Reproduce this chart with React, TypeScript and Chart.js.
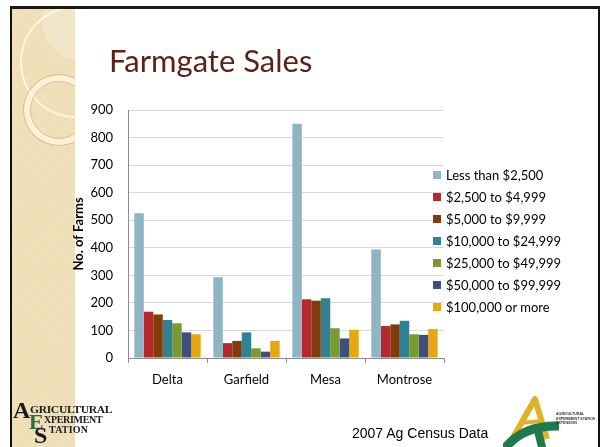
import React, { useEffect, useRef } from 'react';
import { Chart, registerables } from 'chart.js';

Chart.register(...registerables);

const categories = ['Delta', 'Garfield', 'Mesa', 'Montrose'];
const seriesNames = [
  'Less than $2,500',
  '$2,500 to $4,999',
  '$5,000 to $9,999',
  '$10,000 to $24,999',
  '$25,000 to $49,999',
  '$50,000 to $99,999',
  '$100,000 or more',
];
const lessThan2500 = [525, 293, 850, 394];
const from2500to4999 = [168, 54, 213, 116];
const from5000to9999 = [158, 62, 208, 122];
const from10000to24999 = [138, 93, 217, 135];
const from25000to49999 = [126, 35, 108, 86];
const from50000to99999 = [93, 23, 71, 84];
const from100000up = [86, 62, 102, 105];
const seriesValues = [
  lessThan2500,
  from2500to4999,
  from5000to9999,
  from10000to24999,
  from25000to49999,
  from50000to99999,
  from100000up,
];
const seriesColors = ['#8FB4C2', '#B3292F', '#803C0B', '#2F8193', '#789A2E', '#3E4F7E', '#E8A70F'];
const yMin = 0;
const yMax = 900;
const yStep = 100;
const titleText = 'Farmgate Sales';
const yTitle = 'No. of Farms';
const footerText = '2007 Ag Census Data';

const FONT = 'Lato, "Open Sans", sans-serif';

export default function App() {
  const ref = useRef<HTMLCanvasElement>(null);

  useEffect(() => {
    Chart.defaults.font.family = FONT;
    const chart = new Chart(ref.current as HTMLCanvasElement, {
      type: 'bar',
      data: {
        labels: categories,
        datasets: seriesNames.map((name, i) => ({
          label: name,
          data: seriesValues[i],
          backgroundColor: seriesColors[i],
          borderWidth: 0,
          categoryPercentage: 0.84,
          barPercentage: 1,
        })),
      },
      options: {
        responsive: false,
        animation: false,
        devicePixelRatio: 1,
        layout: { padding: { left: 68, top: 110, right: 156, bottom: 59 } },
        plugins: {
          legend: { display: false },
          tooltip: { enabled: false },
        },
        scales: {
          x: {
            grid: {
              display: true,
              drawOnChartArea: false,
              drawTicks: true,
              tickLength: 5,
              color: '#8c8c8c',
              offset: true,
            },
            border: { color: '#8c8c8c' },
            ticks: { color: '#000', font: { size: 13 }, padding: 9 },
            afterFit: (s: any) => {
              s.height = 30;
            },
          },
          y: {
            min: yMin,
            max: yMax,
            ticks: { stepSize: yStep, color: '#000', font: { size: 13 }, padding: 15 },
            grid: { color: '#d9d9d9', drawTicks: false },
            border: { color: '#8c8c8c' },
            title: {
              display: true,
              text: yTitle,
              color: '#000',
              font: { size: 13, weight: 'bold' },
              padding: { top: 3, bottom: 0 },
            },
            afterFit: (s: any) => {
              s.width = 60;
            },
          },
        },
      },
    });
    return () => chart.destroy();
  }, []);

  const abs = (o: React.CSSProperties): React.CSSProperties => ({ position: 'absolute', ...o });

  return (
    <div style={{ position: 'fixed', left: 0, top: 0, width: 600, height: 447, overflow: 'hidden', background: '#fff' }}>
      {/* frame */}
      <div style={abs({ left: 10, top: 6, width: 590, height: 3, background: '#1b1712' })} />
      <div style={abs({ left: 10, top: 6, width: 2, height: 441, background: '#111' })} />
      <div style={abs({ left: 598, top: 6, width: 2, height: 441, background: '#111' })} />
      {/* beige strip */}
      <div
        style={abs({
          left: 12,
          top: 9,
          width: 63,
          height: 438,
          overflow: 'hidden',
          background: '#EEDCB2',
          backgroundImage:
            'repeating-linear-gradient(45deg, rgba(255,255,255,0.12) 0 1px, transparent 1px 3px), repeating-linear-gradient(-45deg, rgba(255,255,255,0.12) 0 1px, transparent 1px 3px)',
        })}
      >
        <div style={abs({ left: 30, top: -28, width: 80, height: 80, borderRadius: '50%', background: 'rgba(255,255,255,0.22)' })} />
        <div style={abs({ left: 8, top: -3, width: 112, height: 112, borderRadius: '50%', border: '2px solid rgba(255,250,225,0.9)', boxSizing: 'border-box' })} />
        <div
          style={abs({
            left: 11,
            top: 65,
            width: 72,
            height: 72,
            borderRadius: '50%',
            border: '1px solid rgba(205,175,120,0.8)',
            background: 'radial-gradient(circle, transparent 0 28px, rgba(255,248,225,0.75) 29px 35px)',
            boxSizing: 'border-box',
          })}
        />
        <div style={abs({ left: 18, top: 72, width: 58, height: 58, borderRadius: '50%', border: '1px solid rgba(205,175,120,0.7)', boxSizing: 'border-box' })} />
      </div>

      <canvas ref={ref} width={600} height={447} style={abs({ left: 0, top: 0, width: 600, height: 447 })} />

      {/* title */}
      <div style={abs({ left: 109, top: 44.5, fontFamily: FONT, fontSize: 31, lineHeight: '31px', color: '#5B2318', whiteSpace: 'nowrap' })}>
        {titleText}
      </div>

      {/* legend */}
      <div style={abs({ left: 433, top: 164, fontFamily: FONT, fontSize: 13, color: '#000' })}>
        {seriesNames.map((name, i) => (
          <div key={name} style={{ position: 'relative', height: 22, lineHeight: '22px', whiteSpace: 'nowrap' }}>
            <span style={abs({ left: 0, top: 7, width: 8, height: 8, background: seriesColors[i] })} />
            <span style={{ marginLeft: 13 }}>{name}</span>
          </div>
        ))}
      </div>

      {/* footer text */}
      <div style={abs({ left: 352, top: 425, fontFamily: '"Liberation Sans", Arial, sans-serif', fontSize: 14, lineHeight: '16px', color: '#000', whiteSpace: 'nowrap' })}>
        {footerText}
      </div>

      {/* left logo */}
      <div style={abs({ left: 13, top: 398, width: 120, height: 49, fontFamily: '"Liberation Serif", serif', fontWeight: 'bold', color: '#1a1a1a' })}>
        <span style={abs({ left: 0, top: 0, fontSize: 24, lineHeight: '24px' })}>A</span>
        <span style={abs({ left: 17, top: 6, fontSize: 11, lineHeight: '11px', letterSpacing: -0.3, transform: 'scaleX(1.05)', transformOrigin: 'left' })}>GRICULTURAL</span>
        <span style={abs({ left: 16, top: 13, fontSize: 22, lineHeight: '22px', color: '#2F6B45' })}>E</span>
        <span style={abs({ left: 31, top: 17, fontSize: 10, lineHeight: '10px', letterSpacing: -0.3 })}>XPERIMENT</span>
        <span style={abs({ left: 21, top: 25, fontSize: 24, lineHeight: '24px' })}>S</span>
        <span style={abs({ left: 36, top: 27, fontSize: 10, lineHeight: '10px', letterSpacing: 0.2 })}>TATION</span>
      </div>

      {/* right logo */}
      <svg style={abs({ left: 503, top: 395 })} width={92} height={52} viewBox="0 0 92 52">
        <path d="M 8 46 L 32 4 L 44 44" stroke="#E0B12A" strokeWidth={6} fill="none" strokeLinejoin="round" />
        <path d="M 16 28 L 40 26" stroke="#E0B12A" strokeWidth={4} fill="none" />
        <path d="M 0 56 Q 18 30 56 31" stroke="#1F7A4B" strokeWidth={9} fill="none" />
        <path d="M 34 32 L 40 56" stroke="#1F7A4B" strokeWidth={8} fill="none" />
        <text x={53} y={20} fontSize={3.6} fontFamily="Liberation Sans" fontWeight="bold" fill="#333">AGRICULTURAL</text>
        <text x={53} y={24.5} fontSize={3.6} fontFamily="Liberation Sans" fontWeight="bold" fill="#333">EXPERIMENT STATION</text>
        <text x={53} y={29} fontSize={3.6} fontFamily="Liberation Sans" fontWeight="bold" fill="#333">EXTENSION</text>
      </svg>
    </div>
  );
}
